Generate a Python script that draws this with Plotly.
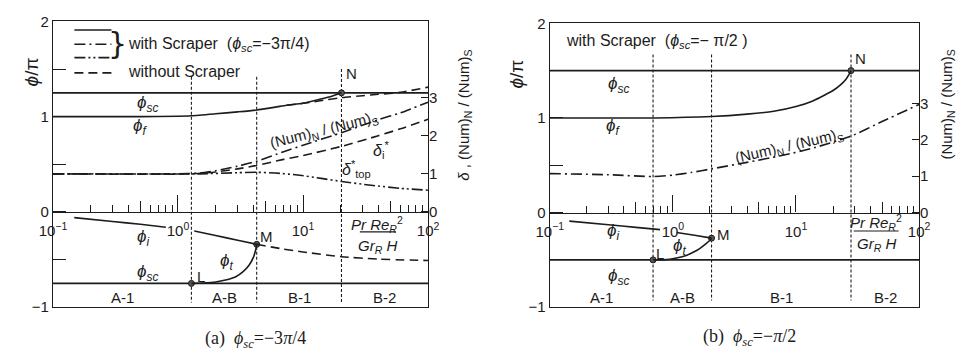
import plotly.graph_objects as go
import numpy as np

INK = "#1c1c1c"
FONT = "Liberation Sans"
SERIF = "Liberation Serif"
W, H = 970, 360

# Region boundaries on the abscissa (points L, M, N)
bounds_a = [1.28, 4.26, 20.3]
bounds_b = [0.69, 2.06, 28.0]

# Scraper angle in units of pi (upper branch shifted by 2*pi)
phi_sc_a = [1.25, -0.75]
phi_sc_b = [1.5, -0.5]

# ---------- (a) phi_sc = -3pi/4 ----------
a_phif_x = [0.1, 0.5, 1.0, 1.28, 2.0, 3.0, 4.26, 6.0, 7.4, 10.0, 13.4, 17.0, 20.3]
a_phif_y = [1.0, 1.0, 1.005, 1.01, 1.03, 1.05, 1.07, 1.10, 1.12, 1.14, 1.18, 1.215, 1.25]
a_phif0_x = [7.4, 10.0, 13.4, 20.3, 30.0, 40.0, 60.0, 100.0]
a_phif0_y = [1.12, 1.14, 1.165, 1.20, 1.22, 1.235, 1.255, 1.31]
a_num_x = [0.1, 1.0, 1.5, 2.0, 3.0, 4.26, 7.0, 10.0, 20.3, 40.0, 60.0, 100.0]
a_num_y = [1.0, 1.0, 1.02, 1.08, 1.2, 1.33, 1.58, 1.75, 2.08, 2.42, 2.6, 2.88]
a_deli_x = [0.1, 1.3, 2.0, 3.0, 4.26, 7.0, 10.0, 20.3, 40.0, 60.0, 100.0]
a_deli_y = [1.0, 1.0, 1.05, 1.13, 1.22, 1.38, 1.48, 1.72, 2.0, 2.18, 2.43]
a_dtop_x = [0.1, 1.5, 3.0, 4.26, 6.0, 9.0, 14.0, 20.3, 35.0, 60.0, 100.0]
a_dtop_y = [1.0, 1.0, 1.03, 1.04, 1.02, 0.97, 0.88, 0.80, 0.70, 0.62, 0.57]
a_phii_x = [0.148, 0.3, 0.5, 0.8, None, 1.35, 2.0, 3.0, 4.26]
a_phii_y = [-0.06, -0.10, -0.13, -0.16, None, -0.20, -0.248, -0.297, -0.34]
a_phii0_x = [4.26, 7.0, 10.0, 20.3, 40.0, 100.0]
a_phii0_y = [-0.34, -0.39, -0.42, -0.47, -0.495, -0.51]
a_phit_x = [1.28, 1.6, 2.0, 2.4, 2.9, 3.3, 3.7, 4.0, 4.18, 4.26]
a_phit_y = [-0.75, -0.745, -0.735, -0.715, -0.68, -0.63, -0.56, -0.48, -0.40, -0.34]
a_pts_y = [-0.75, -0.34, 1.25]

# ---------- (b) phi_sc = -pi/2 ----------
b_phif_x = [0.1, 0.7, 2.06, 4.0, 6.6, 10.0, 13.7, 17.0, 20.0, 23.0, 25.5, 27.0, 28.0]
b_phif_y = [1.0, 1.0, 1.015, 1.04, 1.07, 1.12, 1.18, 1.24, 1.29, 1.35, 1.41, 1.46, 1.5]
b_num_x = [0.1, 0.3, 0.69, 1.0, 1.4, 2.06, 4.0, 8.0, 14.0, 28.0, 50.0, 100.0]
b_num_y = [1.07, 1.04, 0.99, 1.03, 1.1, 1.2, 1.38, 1.58, 1.78, 2.1, 2.5, 2.97]
b_phii_x = [0.144, 0.3, 0.5, 0.785, None, 1.07, 1.5, 2.06]
b_phii_y = [-0.09, -0.129, -0.156, -0.18, None, -0.21, -0.24, -0.27]
b_phit_x = [0.69, 0.84, 1.07, 1.3, 1.46, 1.65, 1.85, 1.97, 2.06]
b_phit_y = [-0.5, -0.5, -0.48, -0.45, -0.42, -0.38, -0.33, -0.30, -0.27]
b_pts_y = [-0.5, -0.27, 1.5]

# boundary line extents (phi/pi)
a_vtop = [1.42, 1.42, 1.50]
b_vtop = [1.67, 1.67, 1.67]
a_vbot, b_vbot = -0.95, -0.93

region_names = ["A-1", "A-B", "B-1", "B-2"]
x_decades = [0.1, 1, 10, 100]
x_dec_text = ["10<sup>−1</sup>", "10<sup>0</sup>", "10<sup>1</sup>", "10<sup>2</sup>"]
x_fives = [0.5, 5, 50]
x_minor = [m * d for d in [0.1, 1, 10] for m in [2, 3, 4, 6, 7, 8, 9]]

SOLID, DASH = "solid", "9px,5px"
DASHDOT = "11px,4px,2px,4px"
DASHDOT2 = "11px,3px,2px,3px,2px,3px"
DOTTED = "3px,2px"
LW = 1.6

fig = go.Figure()


def line(x, y, dash, xa, ya, width=LW):
    fig.add_trace(go.Scatter(x=x, y=y, mode="lines", xaxis=xa, yaxis=ya,
                             line=dict(color=INK, width=width, dash=dash, shape="spline", smoothing=0.6),
                             connectgaps=False, showlegend=False, hoverinfo="skip"))


def panel(xa, ya, bounds, sc, vtop, vbot, pts_y):
    # scraper position (upper and lower branch)
    for v in sc:
        line([0.1, 100], [v, v], SOLID, xa, ya)
    # region boundaries
    for b, t in zip(bounds, vtop):
        line([b, b], [t, vbot], DOTTED, xa, ya, width=1.1)
    # L, M, N points
    fig.add_trace(go.Scatter(x=bounds, y=pts_y, mode="markers", xaxis=xa, yaxis=ya,
                             marker=dict(size=6, color="#555", line=dict(color=INK, width=1)),
                             showlegend=False, hoverinfo="skip"))


# (a)
panel("x", "y", bounds_a, phi_sc_a, a_vtop, a_vbot, a_pts_y)
line(a_phif_x, a_phif_y, SOLID, "x", "y")
line(a_phif0_x, a_phif0_y, DASH, "x", "y")
line(a_num_x, a_num_y, DASHDOT, "x", "y2")
line(a_deli_x, a_deli_y, DASH, "x", "y2")
line(a_dtop_x, a_dtop_y, DASHDOT2, "x", "y2")
line(a_phii_x, a_phii_y, SOLID, "x", "y")
line(a_phii0_x, a_phii0_y, DASH, "x", "y")
line(a_phit_x, a_phit_y, SOLID, "x", "y")

# (b)
panel("x2", "y3", bounds_b, phi_sc_b, b_vtop, b_vbot, b_pts_y)
line(b_phif_x, b_phif_y, SOLID, "x2", "y3")
line(b_num_x, b_num_y, DASHDOT, "x2", "y4")
line(b_phii_x, b_phii_y, SOLID, "x2", "y3")
line(b_phit_x, b_phit_y, SOLID, "x2", "y3")

# helper subplots carrying the tick axes along phi = 0 (own x/y pairs, no data)
tick_pairs = [("x3", "y5"), ("x4", "y6"), ("x5", "y7"), ("x6", "y8"), ("x7", "y9"), ("x8", "y10")]
for xa, ya in tick_pairs:
    fig.add_trace(go.Scatter(x=[], y=[], mode="lines", xaxis=xa, yaxis=ya,
                             showlegend=False, hoverinfo="skip"))


def py(p):
    return 1 - p / H


dom_xa = [40 / W, 425 / W]
dom_xb = [550 / W, 929 / W]
dom_ya = [py(313), py(13)]
dom_yb = [py(313), py(15)]

tickfont = dict(family=FONT, size=15, color=INK)
frame = dict(showline=True, linecolor=INK, linewidth=1.4, mirror=True,
             showgrid=False, zeroline=False)


def main_x(dom, anchor):
    return dict(type="log", range=[-1, 2], domain=dom, anchor=anchor,
                ticks="", showticklabels=False, **frame)


def left_y(dom, anchor):
    return dict(range=[-1, 2], domain=dom, anchor=anchor,
                tickvals=[-1, -0.5, 0, 0.5, 1, 1.5, 2],
                ticktext=["−1", "", "0", "", "1", "", "2"],
                ticks="inside", ticklen=13, tickwidth=1.2, tickcolor=INK,
                tickfont=tickfont, **frame)


def right_y(rng, over, anchor):
    return dict(range=rng, overlaying=over, side="right", anchor=anchor,
                tickvals=[0, 1, 2, 3], ticks="inside", ticklen=7, tickwidth=1.2,
                tickcolor=INK, tickfont=tickfont, showline=False,
                showgrid=False, zeroline=False)


def zero_x(dom, anchor, vals, length, labels=None, showline=False):
    d = dict(type="log", range=[-1, 2], domain=dom, anchor=anchor, side="bottom",
             tickvals=vals, ticks="inside", ticklen=length, tickwidth=1.2, tickcolor=INK,
             showgrid=False, zeroline=False, showline=showline, linecolor=INK, linewidth=1.4)
    if labels is None:
        d["showticklabels"] = False
    else:
        d["ticktext"] = labels
        d["tickfont"] = tickfont
        d["ticklabelstandoff"] = 5
    return d


def zero_y(ydom, anchor):
    pos = ydom[0] + (ydom[1] - ydom[0]) / 3
    return dict(domain=[pos, pos + 0.05], anchor=anchor, range=[0, 1], visible=False,
                showgrid=False, zeroline=False)


fig.update_layout(
    width=W, height=H, margin=dict(l=0, r=0, t=0, b=0),
    paper_bgcolor="white", plot_bgcolor="rgba(0,0,0,0)",
    xaxis=main_x(dom_xa, "y"),
    xaxis2=main_x(dom_xb, "y3"),
    yaxis=left_y(dom_ya, "x"),
    yaxis2=right_y([-2.5, 5.0], "y", "x"),
    yaxis3=left_y(dom_yb, "x2"),
    yaxis4=right_y([-2.6, 5.2], "y3", "x2"),
    xaxis3=zero_x(dom_xa, "y5", x_decades, 17, x_dec_text, True),
    xaxis4=zero_x(dom_xa, "y6", x_fives, 11),
    xaxis5=zero_x(dom_xa, "y7", x_minor, 7),
    xaxis6=zero_x(dom_xb, "y8", x_decades, 17, x_dec_text, True),
    xaxis7=zero_x(dom_xb, "y9", x_fives, 11),
    xaxis8=zero_x(dom_xb, "y10", x_minor, 7),
    yaxis5=zero_y(dom_ya, "x3"),
    yaxis6=zero_y(dom_ya, "x4"),
    yaxis7=zero_y(dom_ya, "x5"),
    yaxis8=zero_y(dom_yb, "x6"),
    yaxis9=zero_y(dom_yb, "x7"),
    yaxis10=zero_y(dom_yb, "x8"),
)

ann = []


def txt(x, y, s, xr, yr, size=16, angle=0, xanchor="center", family=FONT, **kw):
    ann.append(dict(x=x, y=y, xref=xr, yref=yr, text=s, showarrow=False,
                    xanchor=xanchor, yanchor="middle", textangle=angle,
                    font=dict(family=family, size=size, color=INK), **kw))


def region_labels(bounds, xr, yr, yv):
    edges = [0.1] + list(bounds) + [100]
    for name, lo, hi in zip(region_names, edges[:-1], edges[1:]):
        txt(np.log10(np.sqrt(lo * hi)), yv, name, xr, yr, size=15)


PHI = "<i>ϕ</i>"
# ---- (a) labels ----
txt(-0.244, 1.13, PHI + "<sub><i>sc</i></sub>", "x", "y", 17)
txt(-0.30, 0.89, PHI + "<sub><i>f</i></sub>", "x", "y", 17)
txt(1.167, 0.85, "(Num)<sub>N</sub> / (Num)<sub>S</sub>", "x", "y", 15, angle=-14)
txt(1.62, 0.65, "<i>δ</i><sub>i</sub><sup>*</sup>", "x", "y", 16)
txt(1.43, 0.45, "<i>δ</i><sup>*</sup><sub>top</sub>", "x", "y", 16)
txt(1.33, 1.45, "N", "x", "y", 15, xanchor="left")
txt(0.64, -0.26, "M", "x", "y", 15, xanchor="left")
txt(0.135, -0.68, "L", "x", "y", 15, xanchor="left")
txt(-0.283, -0.27, PHI + "<sub><i>i</i></sub>", "x", "y", 17)
txt(0.387, -0.53, PHI + "<sub><i>t</i></sub>", "x", "y", 17)
txt(-0.244, -0.64, PHI + "<sub><i>sc</i></sub>", "x", "y", 17)
region_labels(bounds_a, "x", "y", -0.90)
txt(1.595, -0.13, "<i>Pr Re</i><sub><i>R</i></sub><sup>2</sup>", "x", "y", 15)
txt(1.595, -0.36, "<i>Gr</i><sub><i>R</i></sub> <i>H</i>", "x", "y", 15)

# ---- (b) labels ----
txt(-0.446, 1.35, PHI + "<sub><i>sc</i></sub>", "x2", "y3", 17)
txt(-0.485, 0.90, PHI + "<sub><i>f</i></sub>", "x2", "y3", 17)
txt(0.94, 0.70, "(Num)<sub>N</sub> / (Num)<sub>S</sub>", "x2", "y3", 15, angle=-13)
txt(1.46, 1.63, "N", "x2", "y3", 15, xanchor="left")
txt(0.345, -0.23, "M", "x2", "y3", 15, xanchor="left")
txt(-0.15, -0.43, "L", "x2", "y3", 15, xanchor="left")
txt(-0.485, -0.21, PHI + "<sub><i>i</i></sub>", "x2", "y3", 17)
txt(0.053, -0.36, PHI + "<sub><i>t</i></sub>", "x2", "y3", 17)
txt(-0.446, -0.68, PHI + "<sub><i>sc</i></sub>", "x2", "y3", 17)
region_labels(bounds_b, "x2", "y3", -0.90)
txt(1.652, -0.10, "<i>Pr Re</i><sub><i>R</i></sub><sup>2</sup>", "x2", "y3", 15)
txt(1.652, -0.34, "<i>Gr</i><sub><i>R</i></sub> <i>H</i>", "x2", "y3", 15)
txt(-0.129, 1.81, "with Scraper  (" + PHI + "<sub><i>sc</i></sub>=− π/2 )", "x2", "y3", 16)

# ---- axis titles ----
txt(18 / W, py(66), PHI + "/π", "paper", "paper", 19, angle=-90)
txt(516 / W, py(68), PHI + "/π", "paper", "paper", 19, angle=-90)
txt(463 / W, py(112), "<i>δ</i> , (Num)<sub>N</sub> / (Num)<sub>S</sub>", "paper", "paper", 15, angle=-90)
txt(958 / W, py(100), "(Num)<sub>N</sub> / (Num)<sub>S</sub>", "paper", "paper", 15, angle=-90)

# ---- legend of (a) ----
txt(106 / W, py(36), "}", "paper", "paper", 30, family="DejaVu Sans")
txt(115 / W, py(37), "with Scraper  (" + PHI + "<sub><i>sc</i></sub>=−3π/4)", "paper", "paper", 16, xanchor="left")
txt(115 / W, py(66), "without Scraper", "paper", "paper", 16, xanchor="left")

# ---- captions ----
txt(248 / W, py(347), "(a)  <i>ϕ<sub>sc</sub></i>=−3<i>π</i>/4", "paper", "paper", 18, family=SERIF)
txt(755 / W, py(345), "(b)  <i>ϕ<sub>sc</sub></i>=−<i>π</i>/2", "paper", "paper", 18, family=SERIF)

fig.update_layout(annotations=ann)

# legend samples and fraction bars
shapes = []
for yy, dash in [(22, SOLID), (37, DASHDOT), (51, DASHDOT2), (67, DASH)]:
    shapes.append(dict(type="line", xref="paper", yref="paper", x0=62 / W, x1=100 / W,
                       y0=py(yy), y1=py(yy), line=dict(color=INK, width=LW, dash=dash)))
for x0, x1, yy in [(355, 392, 234), (862, 908, 233)]:
    shapes.append(dict(type="line", xref="paper", yref="paper", x0=x0 / W, x1=x1 / W,
                       y0=py(yy), y1=py(yy), line=dict(color=INK, width=1.2)))
fig.update_layout(shapes=shapes)

fig.write_html("out.html")
